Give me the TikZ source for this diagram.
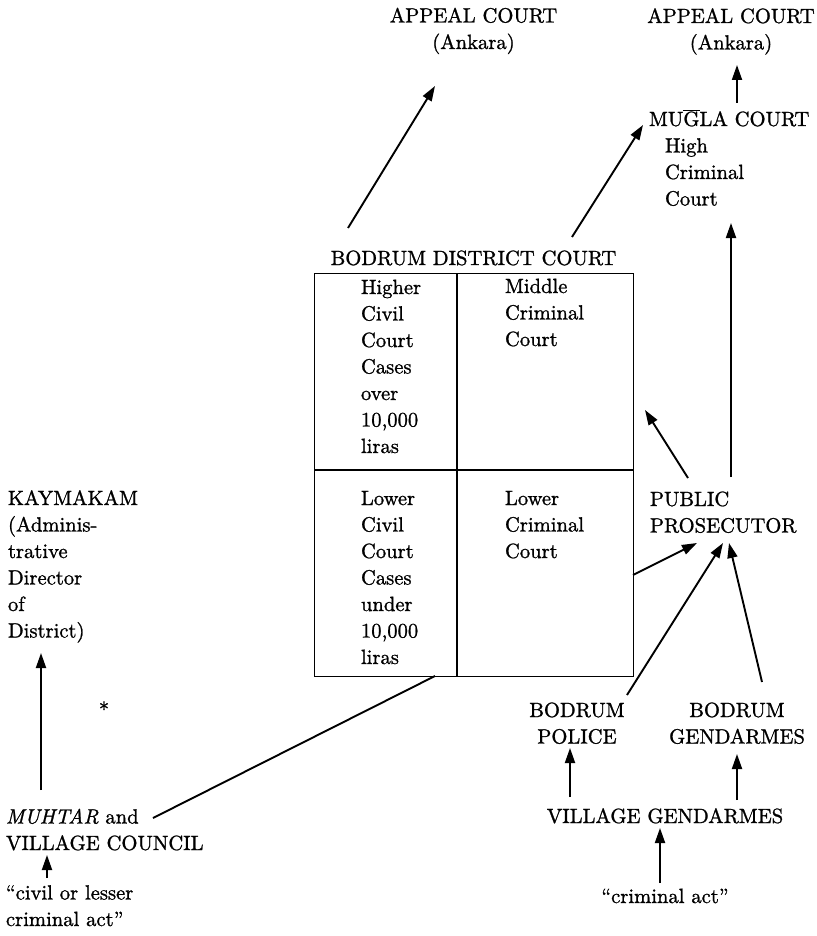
\documentclass[tikz,border=0pt]{standalone}
\usepackage{fontspec}
\setmainfont{lmroman10-regular}[Extension=.otf, ItalicFont=lmroman10-italic, FakeBold=1.1]
\usetikzlibrary{arrows.meta}
\newcommand{\myfs}{\fontsize{20.6}{26.5}\selectfont}
\tikzset{
  lbl/.style={inner sep=0pt, outer sep=0pt, align=left, font=\myfs},
  clbl/.style={inner sep=0pt, outer sep=0pt, align=center, font=\myfs, anchor=base},
  arr/.style={line width=1.9pt, -{Triangle[length=15pt,width=10pt]}},
  plainline/.style={line width=1.9pt},
  boxline/.style={line width=1.3pt}
}
\begin{document}
\begin{tikzpicture}[x=1pt,y=-1pt]
\useasboundingbox (0,0) rectangle (816,936);

% top courts (anchor base = baseline of the last line)
\node[clbl] (ac1) at (473.5,49) {APPEAL COURT\\(Ankara)};
\node[clbl] (ac2) at (731,49.5) {APPEAL COURT\\(Ankara)};
\node[lbl, anchor=base west] (mugla) at (649,205.5)
  {MU$\overline{\hbox{G}}$LA COURT\\\hspace*{16pt}High\\\hspace*{16pt}Criminal\\\hspace*{16pt}Court};

% district court box
\node[clbl] (bdc) at (473.5,265) {BODRUM DISTRICT COURT};
\node[draw, boxline, inner sep=0pt, minimum width=319pt, minimum height=403pt, anchor=north west] (box) at (314,273) {};
\coordinate (vtop) at (457,273);
\coordinate (vbot) at (457,676);
\coordinate (hl) at (314,470);
\coordinate (hr) at (633,470);
\draw[boxline] (vtop) -- (vbot);
\draw[boxline] (hl) -- (hr);

\node[lbl, anchor=base west] (hcc) at (361,453) {Higher\\Civil\\Court\\Cases\\over\\10,000\\liras};
\node[lbl, anchor=base west] (mcc) at (505,346) {Middle\\Criminal\\Court};
\node[lbl, anchor=base west] (lcc) at (361,664) {Lower\\Civil\\Court\\Cases\\under\\10,000\\liras};
\node[lbl, anchor=base west] (lcr) at (505,558) {Lower\\Criminal\\Court};

% left side
\node[lbl, anchor=base west] (kay) at (8,637.5) {KAYMAKAM\\(Adminis-\\trative\\Director\\of\\District)};
\node[lbl, anchor=center] (star) at (104,709) {*};
\node[lbl, anchor=base west] (muh) at (6,850) {\textit{MUHTAR} and\\VILLAGE COUNCIL};
\node[lbl, anchor=base west] (civ) at (6,926) {“civil or lesser\\criminal act”};

% right side
\node[lbl, anchor=base west] (pp) at (650,532.5) {PUBLIC\\PROSECUTOR};
\node[clbl] (bp) at (577,743.5) {BODRUM\\POLICE};
\node[clbl] (bg) at (737,743.5) {BODRUM\\GENDARMES};
\node[clbl] (vg) at (665,823) {VILLAGE GENDARMES};
\node[clbl] (cra) at (665,903) {“criminal act”};

% connector end points
\coordinate (a1s) at (348,228);  \coordinate (a1e) at (435,86);
\coordinate (a2s) at (572,237);  \coordinate (a2e) at (643,125);
\coordinate (a3s) at (737,103);  \coordinate (a3e) at (737,65);
\coordinate (a4s) at (731,477);  \coordinate (a4e) at (731,223);
\coordinate (a5s) at (688,478);  \coordinate (a5e) at (645,410);
\coordinate (a6s) at (633,575);  \coordinate (a6e) at (697,543);
\coordinate (a7s) at (627,695);  \coordinate (a7e) at (723,543);
\coordinate (a8s) at (762,682);  \coordinate (a8e) at (729,543);
\coordinate (a9s) at (570,797);  \coordinate (a9e) at (570,748);
\coordinate (a10s) at (737,800); \coordinate (a10e) at (737,754);
\coordinate (a11s) at (660,883); \coordinate (a11e) at (660,828);
\coordinate (a12s) at (41,790);  \coordinate (a12e) at (41,653);
\coordinate (a13s) at (47,878);  \coordinate (a13e) at (47,855);
\coordinate (l1s) at (153,818);  \coordinate (l1e) at (435,676);

\draw[arr] (a1s) -- (a1e);
\draw[arr] (a2s) -- (a2e);
\draw[arr] (a3s) -- (a3e);
\draw[arr] (a4s) -- (a4e);
\draw[arr] (a5s) -- (a5e);
\draw[arr] (a6s) -- (a6e);
\draw[arr] (a7s) -- (a7e);
\draw[arr] (a8s) -- (a8e);
\draw[arr] (a9s) -- (a9e);
\draw[arr] (a10s) -- (a10e);
\draw[arr] (a11s) -- (a11e);
\draw[arr] (a12s) -- (a12e);
\draw[arr] (a13s) -- (a13e);
\draw[plainline] (l1s) -- (l1e);
\end{tikzpicture}
\end{document}
